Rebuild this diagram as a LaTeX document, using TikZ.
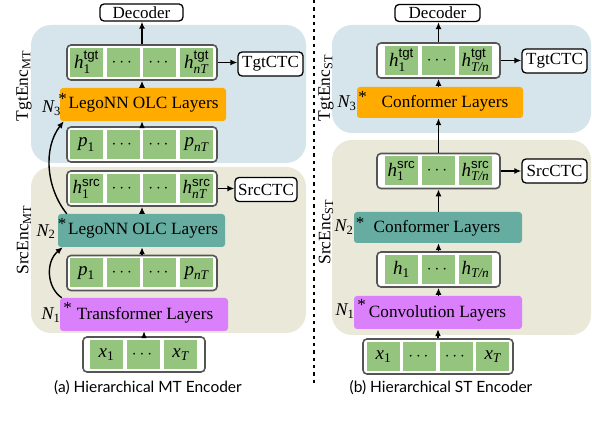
\documentclass[tikz,border=0pt]{standalone}
\usepackage{fontspec}
\usepackage{amsmath}
\setmainfont{Liberation Serif}
\setsansfont{Liberation Sans}
\newfontfamily\capfont{Lato}
\usetikzlibrary{arrows.meta}
\definecolor{bgblue}{RGB}{214,228,235}
\definecolor{bgbeige}{RGB}{234,232,217}
\definecolor{cellgreen}{RGB}{148,196,125}
\definecolor{lorange}{RGB}{255,171,0}
\definecolor{lteal}{RGB}{103,172,160}
\definecolor{lmag}{RGB}{217,128,250}
\definecolor{rowgray}{RGB}{85,85,85}
\newcommand{\mi}[1]{\textit{#1}}
\newcommand{\hv}[3]{$\mi{#1}^{\textsf{#2}}_{#3}$}
\begin{document}
\begin{tikzpicture}[x=1pt,y=-1pt,
  rowbox/.style={draw=rowgray, line width=1.6pt, fill=white, rounded corners=4pt, minimum height=35pt, inner sep=0pt},
  cellbox/.style={fill=cellgreen, minimum width=33pt, minimum height=29pt, inner sep=0pt, font=\fontsize{19}{22}\selectfont},
  layerbox/.style={rounded corners=3pt, inner sep=0pt, minimum height=33pt},
  outbox/.style={draw=black, line width=1.3pt, fill=white, rounded corners=4pt, inner sep=0pt, minimum height=24pt, font=\fontsize{17}{19}\selectfont},
  layertext/.style={inner sep=0pt, font=\fontsize{17.2}{19}\selectfont},
  startext/.style={inner sep=0pt, font=\fontsize{17}{19}\selectfont},
  nlab/.style={inner sep=0pt, font=\fontsize{18}{20}\selectfont},
  enclab/.style={inner sep=0pt, rotate=90, font=\fontsize{17.5}{20}\selectfont},
  captext/.style={inner sep=0pt, font=\capfont\fontsize{15.5}{18}\selectfont},
  arr/.style={-{Latex[length=7pt,width=6pt]}, line width=1.4pt},
  sep/.style={line width=2.7pt, dash pattern=on 3.3pt off 4pt}
]
\useasboundingbox (0,0) rectangle (592,430);
% background regions
\fill[bgblue, rounded corners=20pt] (31,25) rectangle (306,163);
\fill[bgbeige, rounded corners=20pt] (31,167) rectangle (306,333);
\fill[bgblue, rounded corners=20pt] (332,25) rectangle (591,133);
\fill[bgbeige, rounded corners=20pt] (332,140) rectangle (591,335);
% separator
\coordinate (sepTop) at (314,0);
\coordinate (sepBot) at (314,383);
\draw[sep] (sepTop) -- (sepBot);

% ===== LEFT =====
\node[outbox, minimum width=83pt, minimum height=17pt] (decL) at (141.5,12.5) {Decoder};
\node[outbox, minimum width=65pt] (tctcL) at (270.5,64) {TgtCTC};
\node[outbox, minimum width=62pt] (sctcL) at (266,189.5) {SrcCTC};

\node[rowbox, minimum width=150pt] (hTL) at (142,62.5) {};
\foreach \lab [count=\i] in {{\hv{h}{tgt}{\textrm{1}}},{$\cdots$},{$\cdots$},{\hv{h}{tgt}{\mi{nT}}}}
  \node[cellbox] (hTL\i) at ({86.5+(\i-1)*36.7},62.5) {\lab};

\node[layerbox, fill=lorange, minimum width=166pt] (oL) at (143,104.5) {};
\node[layertext] (oLt) at (143.5,105) {LegoNN OLC Layers};
\node[startext] (oLs) at (62.5,99) {*};
\node[nlab] (oLn) at (51.5,108) {$\mi{N}_{\textrm{3}}$};

\node[rowbox, minimum width=150pt] (pTL) at (142,144.5) {};
\foreach \lab [count=\i] in {{$\mi{p}_{\textrm{1}}$},{$\cdots$},{$\cdots$},{$\mi{p}_{\mi{nT}}$}}
  \node[cellbox] (pTL\i) at ({86.5+(\i-1)*36.7},144.5) {\lab};

\node[rowbox, minimum width=150pt] (hSL) at (142,188.5) {};
\foreach \lab [count=\i] in {{\hv{h}{src}{\textrm{1}}},{$\cdots$},{$\cdots$},{\hv{h}{src}{\mi{nT}}}}
  \node[cellbox] (hSL\i) at ({86.5+(\i-1)*36.7},188.5) {\lab};

\node[layerbox, fill=lteal, minimum width=167pt] (tL) at (141.5,230.5) {};
\node[layertext] (tLt) at (143,231) {LegoNN OLC Layers};
\node[startext] (tLs) at (62,224) {*};
\node[nlab] (tLn) at (46,231.5) {$\mi{N}_{\textrm{2}}$};

\node[rowbox, minimum width=150pt] (pSL) at (142,273) {};
\foreach \lab [count=\i] in {{$\mi{p}_{\textrm{1}}$},{$\cdots$},{$\cdots$},{$\mi{p}_{\mi{nT}}$}}
  \node[cellbox] (pSL\i) at ({86.5+(\i-1)*36.7},273) {\lab};

\node[layerbox, fill=lmag, minimum width=168pt] (mL) at (144,314.5) {};
\node[layertext] (mLt) at (145,315) {Transformer Layers};
\node[startext] (mLs) at (67.5,308) {*};
\node[nlab] (mLn) at (51,315) {$\mi{N}_{\textrm{1}}$};

\node[rowbox, minimum width=122pt] (xL) at (144,354.5) {};
\foreach \lab [count=\i] in {{$\mi{x}_{\textrm{1}}$},{$\cdots$},{$\mi{x}_{\mi{T}}$}}
  \node[cellbox] (xL\i) at ({106.5+(\i-1)*37},354.5) {\lab};

\node[enclab] (encTL) at (24,86) {TgtEnc$_{\textrm{MT}}$};
\node[enclab] (encSL) at (24,240) {SrcEnc$_{\textrm{MT}}$};
\node[captext] (capL) at (148,388) {(a) Hierarchical MT Encoder};

\draw[arr] (hTL.north) -- (hTL.north |- decL.south);
\draw[arr] (hTL.east) -- (hTL.east -| tctcL.west);
\draw[arr] (hTL.south |- oL.north) -- (hTL.south);
\draw[arr] (pTL.north) -- (pTL.north |- oL.south);
\draw[arr] (hSL.east) -- (hSL.east -| sctcL.west);
\draw[arr] (hSL.south |- tL.north) -- (hSL.south);
\draw[arr] (pSL.north) -- (pSL.north |- tL.south);
\draw[arr] (xL.north) -- (xL.north |- mL.south);
\draw[arr] ([xshift=2pt]mL.north west) .. controls (47,288) and (45,262) .. ([xshift=5pt]tL.south west);
\draw[arr] ([xshift=9pt]tL.north west) .. controls (46,188) and (43,148) .. ([xshift=4pt]oL.south west);

% ===== RIGHT =====
\node[outbox, minimum width=85pt, minimum height=17pt] (decR) at (437.5,13) {Decoder};
\node[outbox, minimum width=65pt] (tctcR) at (554.5,61) {TgtCTC};
\node[outbox, minimum width=65pt] (sctcR) at (554.5,171) {SrcCTC};

\node[rowbox, minimum width=123pt] (hTR) at (438.5,60.5) {};
\foreach \lab [count=\i] in {{\hv{h}{tgt}{\textrm{1}}},{$\cdots$},{\hv{h}{tgt}{\mi{T/n}}}}
  \node[cellbox] (hTR\i) at ({401.5+(\i-1)*37},60.5) {\lab};

\node[layerbox, fill=lorange, minimum width=166pt, minimum height=31pt] (oR) at (440,102.5) {};
\node[layertext] (oRt) at (445,103) {Conformer Layers};
\node[startext] (oRs) at (362.5,97) {*};
\node[nlab] (oRn) at (347,103) {$\mi{N}_{\textrm{3}}$};

\node[rowbox, minimum width=123pt] (hSR) at (438.5,171) {};
\foreach \lab [count=\i] in {{\hv{h}{src}{\textrm{1}}},{$\cdots$},{\hv{h}{src}{\mi{T/n}}}}
  \node[cellbox] (hSR\i) at ({401.5+(\i-1)*37},171) {\lab};

\node[layerbox, fill=lteal, minimum width=168pt, minimum height=31pt] (tR) at (438,227.5) {};
\node[layertext] (tRt) at (437,228) {Conformer Layers};
\node[startext] (tRs) at (360,223) {*};
\node[nlab] (tRn) at (344,227) {$\mi{N}_{\textrm{2}}$};

\node[rowbox, minimum width=123pt] (hR) at (438.5,269.5) {};
\foreach \lab [count=\i] in {{$\mi{h}_{\textrm{1}}$},{$\cdots$},{$\mi{h}_{\mi{T/n}}$}}
  \node[cellbox] (hR\i) at ({401.5+(\i-1)*37},269.5) {\lab};

\node[layerbox, fill=lmag, minimum width=168pt] (mR) at (438,312.5) {};
\node[layertext] (mRt) at (437.5,313) {Convolution Layers};
\node[startext] (mRs) at (361.5,305) {*};
\node[nlab] (mRn) at (345,311) {$\mi{N}_{\textrm{1}}$};

\node[rowbox, minimum width=150pt] (xR) at (438,356.5) {};
\foreach \lab [count=\i] in {{$\mi{x}_{\textrm{1}}$},{$\cdots$},{$\cdots$},{$\mi{x}_{\mi{T}}$}}
  \node[cellbox] (xR\i) at ({383.5+(\i-1)*36.4},356.5) {\lab};

\node[enclab] (encTR) at (326,88) {TgtEnc$_{\textrm{ST}}$};
\node[enclab] (encSR) at (326,232) {SrcEnc$_{\textrm{ST}}$};
\node[captext] (capR) at (441,388) {(b) Hierarchical ST Encoder};

\draw[arr] (hTR.north) -- (hTR.north |- decR.south);
\draw[arr] (hTR.east) -- (hTR.east -| tctcR.west);
\draw[arr] (hTR.south |- oR.north) -- (hTR.south);
\draw[arr] (hSR.north) -- (hSR.north |- oR.south);
\draw[arr] (hSR.east) -- (hSR.east -| sctcR.west);
\draw[arr] (hSR.south |- tR.north) -- (hSR.south);
\draw[arr] (hR.north) -- (hR.north |- tR.south);
\draw[arr] (hR.south |- mR.north) -- (hR.south);
\draw[arr] (xR.north) -- (xR.north |- mR.south);
\end{tikzpicture}
\end{document}
